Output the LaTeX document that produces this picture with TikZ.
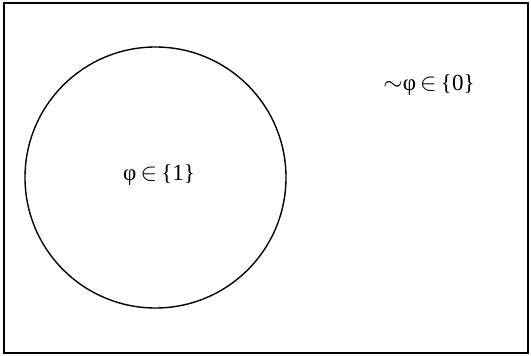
\documentclass[tikz,border=0pt]{standalone}
\usepackage{fontspec}
\setmainfont{Liberation Serif}
\begin{document}
\begin{tikzpicture}[x=1pt, y=-1pt,
  universe/.style={draw, line width=1.9pt, inner sep=0pt},
  setcircle/.style={draw, circle, line width=1.4pt, inner sep=0pt,
    minimum size=261pt},
  lbl/.style={font=\fontsize{23}{27}\selectfont, inner sep=0pt}
]
  \useasboundingbox (0,0) rectangle (531,356);
  % frame
  \draw[universe] (4,3) rectangle (528,353);
  % set
  \node[setcircle] (set) at (155.5,177.5) {};
  % labels
  \node[lbl] (truelbl) at (159,175) {φ$\,\in\,$\{1\}};
  \node[lbl] (falselbl) at (429,85) {$\sim$φ$\,\in\,$\{0\}};
\end{tikzpicture}
\end{document}
